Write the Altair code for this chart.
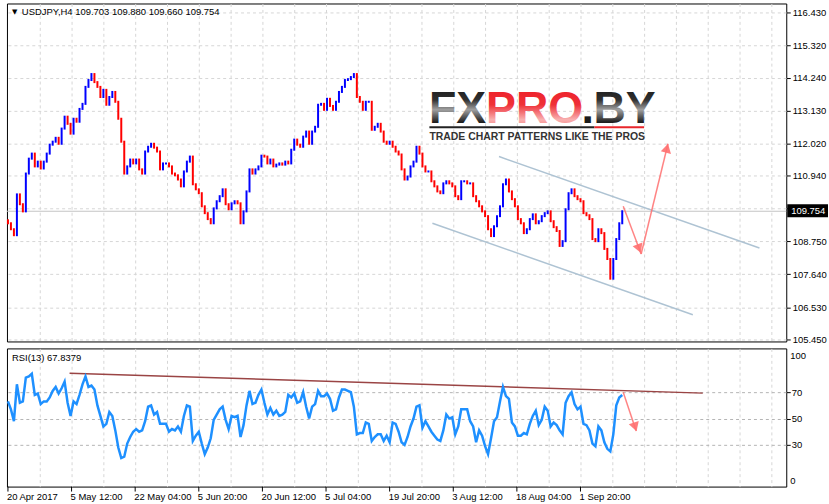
import altair as alt
import pandas as pd

# ---------------- values ----------------
closes = [
    109.35, 109.15, 108.95, 110.32, 109.99, 109.75, 111.02, 111.52, 111.69, 111.26,
    111.42, 111.19, 111.42, 111.69, 111.99, 112.09, 112.22, 112.02, 112.53, 112.93,
    112.69, 112.36, 112.86, 112.76, 113.19, 113.36, 113.93, 114.16, 114.36, 114.09,
    113.93, 113.59, 113.83, 113.33, 113.59, 113.76, 113.43, 112.86, 112.09, 111.02,
    111.26, 111.49, 111.36, 111.49, 111.16, 111.02, 111.76, 111.92, 112.02, 111.89,
    111.76, 111.16, 111.36, 111.36, 111.26, 111.02, 110.96, 110.82, 110.59, 111.09,
    111.42, 111.59, 110.66, 110.49, 110.36, 109.92, 109.69, 109.49, 109.35, 109.85,
    110.09, 110.26, 110.49, 109.99, 109.82, 110.02, 110.09, 110.02, 109.35, 109.75,
    110.42, 111.16, 111.02, 111.16, 111.26, 111.62, 111.59, 111.36, 111.49, 111.26,
    111.32, 111.36, 111.32, 111.42, 111.36, 111.82, 112.16, 111.99, 111.92, 112.26,
    112.43, 112.02, 112.43, 112.59, 113.33, 113.36, 113.16, 113.53, 113.29, 113.16,
    113.43, 113.76, 113.93, 114.16, 114.19, 114.26, 114.36, 113.59, 113.43, 113.16,
    113.43, 113.43, 112.49, 112.59, 112.69, 112.43, 112.09, 112.02, 112.09, 111.92,
    111.76, 111.66, 111.16, 110.82, 110.92, 111.26, 111.42, 111.92, 111.69, 111.26,
    111.09, 111.09, 110.76, 110.59, 110.42, 110.36, 110.69, 110.76, 110.69, 110.59,
    110.26, 110.16, 110.76, 110.76, 110.69, 110.69, 110.26, 110.09, 109.92, 109.75,
    109.59, 109.15, 108.92, 109.25, 109.59, 109.92, 110.66, 110.82, 110.42, 110.16,
    109.92, 109.49, 109.35, 109.02, 109.15, 109.49, 109.65, 109.35, 109.42, 109.59,
    109.69, 109.75, 109.42, 109.22, 109.09, 108.59, 108.75, 109.82, 110.36, 110.49,
    110.26, 110.16, 110.09, 109.69, 109.62, 109.49, 108.82, 108.75, 109.15, 109.02,
    108.49, 108.15, 107.49, 108.15, 108.82, 109.35, 109.754,
]
first_open = 109.45

rsi_values = [
    63, 57, 48, 76, 62, 63, 81, 82, 84, 68,
    69, 61, 63, 63, 66, 71, 74, 69, 73, 78,
    62, 52, 63, 61, 68, 76, 82, 74, 75, 72,
    60, 52, 44, 46, 55, 52, 41, 28, 20, 21,
    31, 36, 40, 42, 40, 41, 48, 59, 60, 53,
    55, 46, 46, 46, 40, 42, 41, 44, 40, 52,
    60, 59, 33, 37, 40, 31, 23, 28, 35, 49,
    53, 57, 59, 49, 42, 52, 51, 52, 36, 45,
    60, 71, 61, 62, 68, 72, 62, 53, 58, 53,
    56, 52, 53, 55, 68, 66, 69, 62, 63, 70,
    59, 50, 59, 61, 71, 67, 67, 69, 65, 56,
    57, 66, 72, 72, 71, 70, 59, 38, 39, 39,
    47, 46, 33, 36, 38, 38, 33, 37, 32, 47,
    46, 40, 32, 30, 36, 44, 50, 59, 60, 43,
    48, 44, 40, 37, 34, 33, 41, 53, 50, 51,
    38, 44, 57, 57, 57, 48, 44, 32, 41, 37,
    29, 23, 35, 48, 51, 63, 74, 67, 65, 47,
    44, 37, 37, 39, 38, 46, 52, 56, 45, 49,
    59, 56, 44, 47, 45, 41, 38, 62, 67, 70,
    61, 57, 59, 46, 45, 41, 31, 29, 44, 41,
    32, 27, 25, 38, 60, 66, 67.84,
]

price_ticks = [116.43, 115.32, 114.24, 113.13, 112.02, 110.94, 109.85,
               108.75, 107.64, 106.53, 105.45]
hidden_tick = 109.85  # covered by the current-price box in the reference
date_labels = ["20 Apr 2017", "5 May 12:00", "22 May 04:00", "5 Jun 20:00",
               "20 Jun 12:00", "5 Jul 04:00", "19 Jul 20:00", "3 Aug 12:00",
               "18 Aug 04:00", "1 Sep 20:00"]
rsi_levels = [30, 50, 70]
last_price = 109.754
title_text = "USDJPY,H4  109.703 109.880 109.660 109.754"
rsi_title = "RSI(13) 67.8379"

# hand-drawn objects on the chart (bar index, value)
upper_channel = {"t": [494, 756], "price": [111.59, 108.52]}
lower_channel = {"t": [427, 689], "price": [109.35, 106.28]}
arrow_down = {"t": [619, 637], "price": [109.92, 108.32]}
arrow_up = {"t": [637, 664], "price": [108.32, 112.02]}
rsi_trend = {"t": [62, 699], "rsi": [84.4, 69.3]}
rsi_arrow = {"t": [619, 632], "rsi": [70.0, 40.6]}

# ---------------- layout ----------------
FONT = "Liberation Sans"
W, H1, H2 = 784, 340, 139
BAR_STEP, LABEL_STEP, GRID_STEP = 3, 64, 32

n = len(closes)
t_idx = [BAR_STEP * i for i in range(n)]
opens = [first_open] + closes[:-1]
bars = pd.DataFrame({
    "t": t_idx, "open": opens, "price": closes,
    "dir": ["up" if c >= o else "down" for o, c in zip(opens, closes)],
})
rsi_df = pd.DataFrame({"t": t_idx, "rsi": rsi_values})
one = pd.DataFrame({"a": [0]})

xscale = alt.Scale(domain=[-1, 783], nice=False, zero=False)
pscale = alt.Scale(domain=[105.382, 116.730], nice=False, zero=False)
rscale = alt.Scale(domain=[-1.66, 103.25], nice=False, zero=False)
grid_vals = [GRID_STEP * k for k in range(1, 25)]

xaxis = alt.Axis(values=grid_vals, grid=True, labels=False, ticks=False,
                 domain=False, title=None, gridColor="#d6d6d6", gridDash=[3, 3])
paxis = alt.Axis(orient="right", values=price_ticks, format=".3f", grid=True,
                 gridColor="#d6d6d6", gridDash=[3, 3], tickSize=4,
                 tickColor="black", labelColor="black", labelFont=FONT,
                 labelFontSize=9.5, labelPadding=2, domain=False, title=None,
                 labelExpr=f"abs(datum.value - {hidden_tick}) < 0.001 ? '' : datum.label")
raxis = alt.Axis(orient="right", values=rsi_levels, format="d", grid=True,
                 gridColor="#b4b4b4", gridDash=[3, 3], tickSize=4,
                 tickColor="black", labelColor="black", labelFont=FONT,
                 labelFontSize=9.5, labelPadding=1, domain=False, title=None)

X = alt.X("t:Q", scale=xscale, axis=xaxis)
P = alt.Y("price:Q", scale=pscale, axis=paxis)
R = alt.Y("rsi:Q", scale=rscale, axis=raxis)

# ---- main price panel ----
price_line = alt.Chart(pd.DataFrame({"price": [last_price]})).mark_rule(
    color="#c4c4c4", strokeWidth=1).encode(y=P)

chan_col = "#aec3d3"
up_ch = alt.Chart(pd.DataFrame(upper_channel)).mark_line(
    color=chan_col, strokeWidth=1.5).encode(x=X, y=P)
lo_ch = alt.Chart(pd.DataFrame(lower_channel)).mark_line(
    color=chan_col, strokeWidth=1.5).encode(x=X, y=P)

bar_layer = alt.Chart(bars).mark_rule(strokeWidth=2, strokeCap="square").encode(
    x=X, y=alt.Y("open:Q", scale=pscale, axis=paxis), y2="price:Q",
    color=alt.Color("dir:N", scale=alt.Scale(domain=["up", "down"],
                                             range=["#0000ff", "#ff0000"]),
                    legend=None))

arrow_col = "#ff6f6f"
a1 = alt.Chart(pd.DataFrame(arrow_down)).mark_line(
    color=arrow_col, strokeWidth=1.5, opacity=0.85).encode(x=X, y=P)
a2 = alt.Chart(pd.DataFrame(arrow_up)).mark_line(
    color=arrow_col, strokeWidth=1.5, opacity=0.85).encode(x=X, y=P)
h1 = alt.Chart(pd.DataFrame({"t": [arrow_down["t"][1] - 2],
                             "price": [arrow_down["price"][1] + 0.18]})).mark_point(
    shape="triangle-up", filled=True, size=110, color=arrow_col, opacity=0.9,
    angle=159).encode(x=X, y=P)
h2 = alt.Chart(pd.DataFrame({"t": [arrow_up["t"][1] - 1],
                             "price": [arrow_up["price"][1] - 0.15]})).mark_point(
    shape="triangle-up", filled=True, size=110, color=arrow_col, opacity=0.9,
    angle=14).encode(x=X, y=P)

grad_dark = alt.LinearGradient(
    gradient="linear", x1=0, y1=0, x2=0, y2=1,
    stops=[alt.GradientStop(color="#151515", offset=0),
           alt.GradientStop(color="#303030", offset=0.35),
           alt.GradientStop(color="#a0a0a0", offset=0.55),
           alt.GradientStop(color="#202020", offset=0.8),
           alt.GradientStop(color="#111111", offset=1)])
grad_red = alt.LinearGradient(
    gradient="linear", x1=0, y1=0, x2=0, y2=1,
    stops=[alt.GradientStop(color="#ed1c24", offset=0),
           alt.GradientStop(color="#ef3038", offset=0.45),
           alt.GradientStop(color="#f8b0b0", offset=0.75),
           alt.GradientStop(color="#f36a6a", offset=1)])

LOGO_SIZE = 45
logo_fx = alt.Chart(one).mark_text(
    text="FX", font=FONT, fontWeight="bold", fontSize=LOGO_SIZE, align="right",
    baseline="alphabetic", color=grad_dark).encode(x=alt.value(482), y=alt.value(120))
logo_pro = alt.Chart(one).mark_text(
    text="PRO", font=FONT, fontWeight="bold", fontSize=LOGO_SIZE, align="left",
    baseline="alphabetic", color=grad_red).encode(x=alt.value(482), y=alt.value(120))
logo_dot = alt.Chart(one).mark_text(
    text=".", font=FONT, fontWeight="bold", fontSize=LOGO_SIZE, align="left",
    baseline="alphabetic", color="#1c1c1c").encode(x=alt.value(578), y=alt.value(120))
logo_by = alt.Chart(one).mark_text(
    text="BY", font=FONT, fontWeight="bold", fontSize=LOGO_SIZE, align="left",
    baseline="alphabetic", color=grad_dark).encode(x=alt.value(590), y=alt.value(120))
ul_black = alt.Chart(one).mark_rule(color="#222222", strokeWidth=2).encode(
    x=alt.value(425), x2=alt.value(591), y=alt.value(124.5))
ul_red = alt.Chart(one).mark_rule(color="#e8262b", strokeWidth=2).encode(
    x=alt.value(591), x2=alt.value(641), y=alt.value(124.5))
tagline = alt.Chart(one).mark_text(
    text="TRADE CHART PATTERNS LIKE THE PROS", font=FONT, fontWeight="bold",
    fontSize=10.5, align="left", baseline="alphabetic", color="#333333").encode(
    x=alt.value(425), y=alt.value(137))

tri = alt.Chart(one).mark_text(
    text="\u25bc", font="DejaVu Sans", fontSize=7, align="left",
    baseline="middle", color="black").encode(x=alt.value(5), y=alt.value(9))
title = alt.Chart(one).mark_text(
    text=title_text, font=FONT, fontSize=9.5, align="left",
    baseline="middle", color="black").encode(x=alt.value(15), y=alt.value(9))

price_box = alt.Chart(one).mark_rect(color="black").encode(
    x=alt.value(W + 1), x2=alt.value(W + 42), y=alt.value(202), y2=alt.value(215))
price_txt = alt.Chart(one).mark_text(
    text=f"{last_price:.3f}", font=FONT, fontSize=9.5, align="left",
    baseline="middle", color="white").encode(x=alt.value(W + 5), y=alt.value(208.5))

main = alt.layer(
    price_line, up_ch, lo_ch, bar_layer, a1, a2, h1, h2,
    ul_black, ul_red, logo_fx, logo_pro, logo_dot, logo_by, tagline,
    tri, title, price_box, price_txt,
).properties(width=W, height=H1)

# ---- RSI panel ----
rsi_line = alt.Chart(rsi_df).mark_line(
    color="#1e90ff", strokeWidth=2.5).encode(x=X, y=R)
trend = alt.Chart(pd.DataFrame(rsi_trend)).mark_line(
    color="#9a4444", strokeWidth=1.5).encode(x=X, y=R)
ra = alt.Chart(pd.DataFrame(rsi_arrow)).mark_line(
    color=arrow_col, strokeWidth=1.5, opacity=0.85).encode(x=X, y=R)
rh = alt.Chart(pd.DataFrame({"t": [rsi_arrow["t"][1] - 1],
                             "rsi": [rsi_arrow["rsi"][1] + 3]})).mark_point(
    shape="triangle-up", filled=True, size=110, color=arrow_col, opacity=0.9,
    angle=162).encode(x=X, y=R)

lab100 = alt.Chart(one).mark_text(
    text="100", font=FONT, fontSize=9.5, align="left", baseline="middle",
    color="black").encode(x=alt.value(W + 4), y=alt.value(8))
lab0 = alt.Chart(one).mark_text(
    text="0", font=FONT, fontSize=9.5, align="left", baseline="middle",
    color="black").encode(x=alt.value(W + 4), y=alt.value(133))
rsi_ttl = alt.Chart(one).mark_text(
    text=rsi_title, font=FONT, fontSize=9.5, align="left", baseline="middle",
    color="black").encode(x=alt.value(5), y=alt.value(10))

dates_df = pd.DataFrame({"t": [LABEL_STEP * k for k in range(len(date_labels))],
                         "label": date_labels})
date_ticks = alt.Chart(dates_df).mark_rule(color="black").encode(
    x=X, y=alt.value(H2), y2=alt.value(H2 + 5))
date_text = alt.Chart(dates_df).mark_text(
    font=FONT, fontSize=9.5, align="left", baseline="middle", dx=-1,
    color="black").encode(x=X, y=alt.value(H2 + 10), text="label:N")

rsi_panel = alt.layer(
    trend, rsi_line, ra, rh, lab100, lab0, rsi_ttl, date_ticks, date_text,
).properties(width=W, height=H2)

chart = alt.vconcat(main, rsi_panel, spacing=3).properties(
    padding={"left": 2, "top": 1, "right": 0, "bottom": 0},
    background="white",
).configure_view(stroke="black", strokeWidth=1)

chart.save("out.html", embed_options={"renderer": "svg", "actions": False})
